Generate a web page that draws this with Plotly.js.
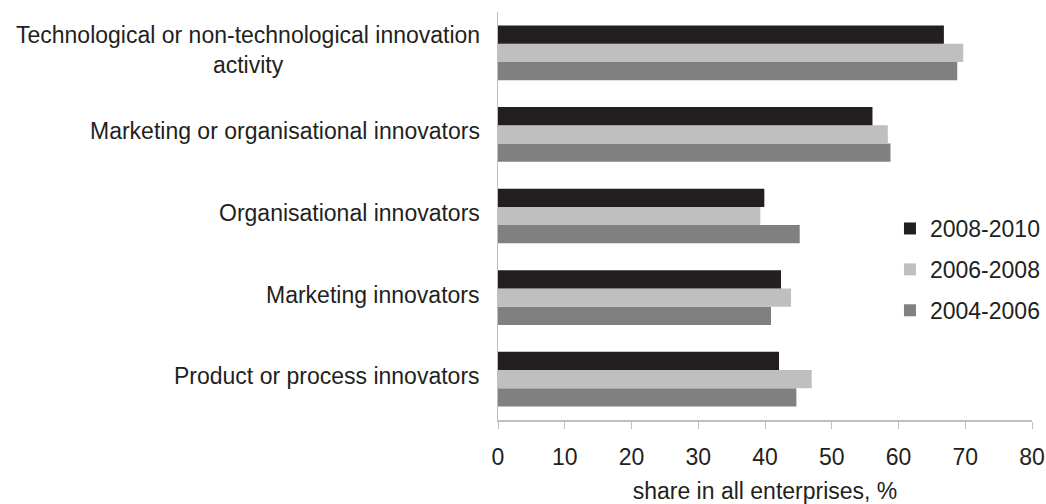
<!DOCTYPE html>
<html>
<head>
<meta charset="utf-8">
<script src="https://cdn.plot.ly/plotly-3.0.1.min.js"></script>
<style>html,body{margin:0;padding:0;background:#fff;}#chart{width:1046px;height:504px;}</style>
</head>
<body>
<div id="chart"></div>
<script>
const categories = [
  "Product or process innovators",
  "Marketing innovators",
  "Organisational innovators",
  "Marketing or organisational innovators",
  "Technological or non-technological innovation<br>activity"
];
const seriesNames = ["2004-2006", "2006-2008", "2008-2010"];
const values2004_2006 = [44.7, 40.9, 45.2, 58.8, 68.8];
const values2006_2008 = [47.0, 43.9, 39.3, 58.4, 69.7];
const values2008_2010 = [42.1, 42.4, 39.9, 56.1, 66.8];
const colors = ["#808080", "#bfbfbf", "#231f20"];
const xTicks = [0, 10, 20, 30, 40, 50, 60, 70, 80];

const allValues = [values2004_2006, values2006_2008, values2008_2010];
const traces = allValues.map((vals, i) => ({
  type: "bar",
  orientation: "h",
  name: seriesNames[i],
  y: categories,
  x: vals,
  marker: {color: colors[i], line: {width: 0}},
  legendgroup: "g" + i,
  legendrank: 3 - i,
  hoverinfo: "x+name"
}));

const font = {family: "Liberation Sans, Arial, sans-serif", size: 23, color: "#231f20"};

const annotations = categories.map(c => ({
  xref: "paper", yref: "y",
  x: 0, y: c, xshift: -16, yshift: 3,
  xanchor: "right", yanchor: "middle",
  align: "center",
  text: c,
  showarrow: false,
  font: font
}));

const layout = {
  width: 1046, height: 504,
  margin: {l: 498, r: 14, t: 12, b: 84, autoexpand: false},
  paper_bgcolor: "#fff", plot_bgcolor: "#fff",
  font: font,
  barmode: "group",
  bargap: 0.33,
  bargroupgap: 0,
  showlegend: true,
  legend: {
    x: 0.734, y: 0.522, xanchor: "left", yanchor: "top",
    traceorder: "grouped",
    tracegroupgap: 8,
    font: font,
    bgcolor: "rgba(0,0,0,0)",
    itemwidth: 30
  },
  xaxis: {
    range: [0, 80],
    automargin: true,
    tickvals: xTicks,
    ticktext: xTicks.map(String),
    ticks: "outside", ticklen: 7, tickcolor: "#bfbfbf", tickwidth: 1,
    showline: true, linecolor: "#bfbfbf", linewidth: 1.5,
    showgrid: false, zeroline: false,
    tickfont: font,
    ticklabelstandoff: 9,
    title: {text: "share in all enterprises, %", font: font, standoff: 20},
    fixedrange: true
  },
  yaxis: {
    type: "category",
    automargin: false,
    categoryorder: "array", categoryarray: categories,
    showticklabels: false,
    ticks: "",
    showline: true, linecolor: "#bfbfbf", linewidth: 1.5,
    showgrid: false, zeroline: false,
    fixedrange: true
  },
  annotations: annotations
};

Plotly.newPlot("chart", traces, layout, {displayModeBar: false, staticPlot: true});
</script>
</body>
</html>
